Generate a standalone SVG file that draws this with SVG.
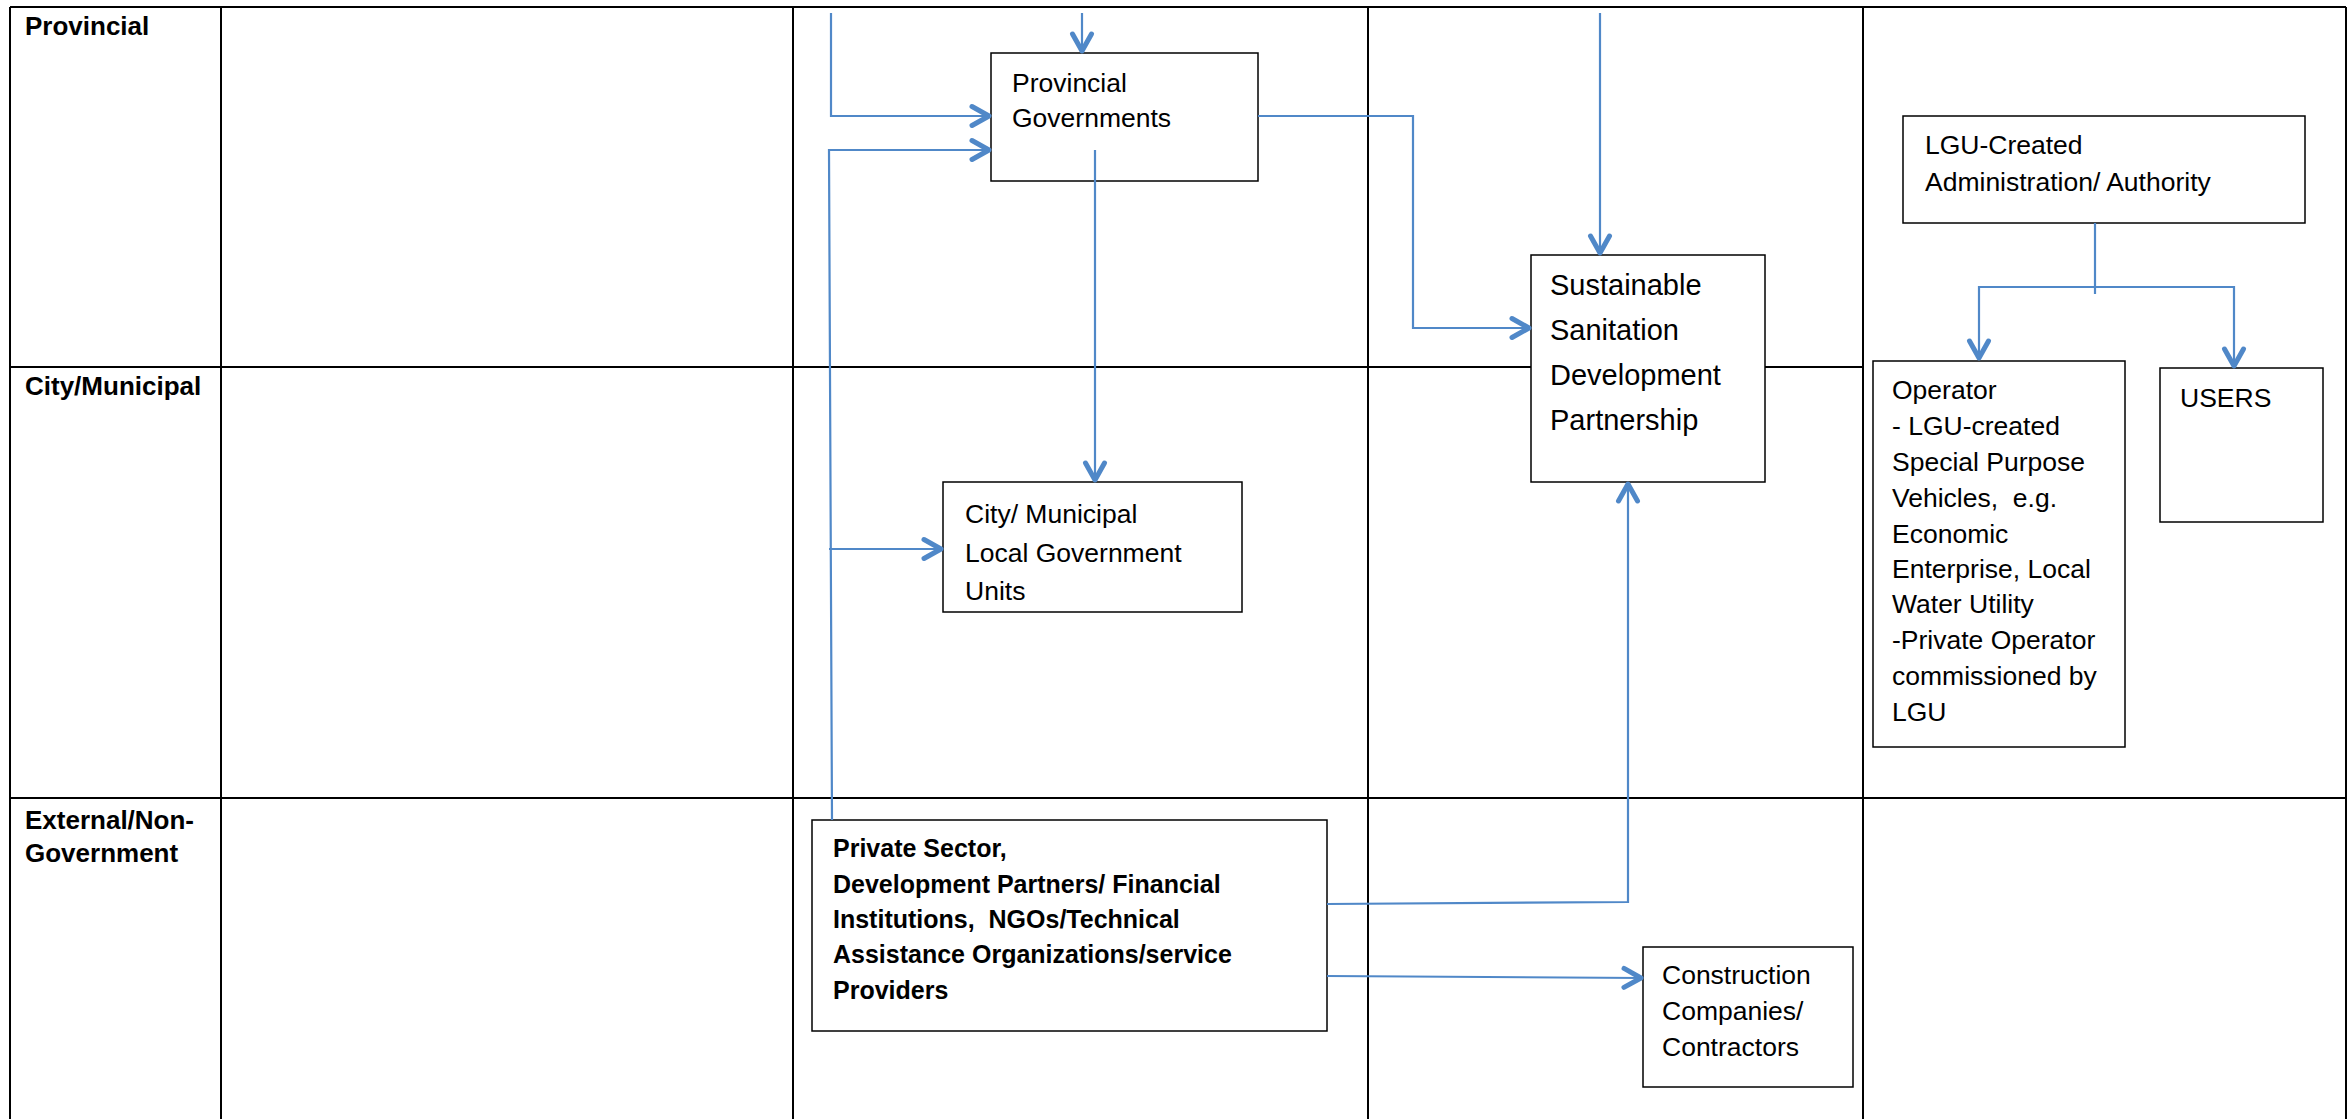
<svg xmlns="http://www.w3.org/2000/svg" width="2352" height="1119" viewBox="0 0 2352 1119">
<style>
.grid{stroke:#000;stroke-width:2;fill:none}
.box{fill:#fff;stroke:#000;stroke-width:1.5}
.hdr{font-family:"Liberation Sans",Arial,sans-serif;font-weight:bold;font-size:26px;fill:#000}
.t{font-family:"Liberation Sans",Arial,sans-serif;font-size:26.5px;fill:#000}
.tb{font-family:"Liberation Sans",Arial,sans-serif;font-weight:bold;font-size:25px;fill:#000}
.big{font-family:"Liberation Sans",Arial,sans-serif;font-size:29px;fill:#000}
.c{fill:none;stroke:#5088C8;stroke-width:2.2}
.ca{fill:none;stroke:#5088C8;stroke-width:2.2;marker-end:url(#arr)}
</style>
<defs>
<marker id="arr" markerUnits="userSpaceOnUse" viewBox="-24 -14 28 28" refX="2" refY="0" markerWidth="28" markerHeight="28" orient="auto">
<path d="M-17,-9.5 L0,0 L-17,9.5" fill="none" stroke="#5088C8" stroke-width="5" stroke-linecap="round" stroke-linejoin="round"/>
</marker>
</defs>
<rect width="2352" height="1119" fill="#fff"/>
<g id="table">
<path class="grid" d="M10,7 H2346 M10,367 H1863 M10,798 H2346 M10,7 V1125 M221,7 V1125 M793,7 V1125 M1368,7 V1125 M1863,7 V1125 M2346,7 V1125"/>
<text class="hdr" x="25" y="35">Provincial</text>
<text class="hdr" x="25" y="395">City/Municipal</text>
<text class="hdr" x="25" y="829">External/Non-</text>
<text class="hdr" x="25" y="862">Government</text>
</g>
<g id="provincial-governments">
<rect class="box" x="991" y="53" width="267" height="128"/>
<text class="t" x="1012" y="92">Provincial</text>
<text class="t" x="1012" y="127">Governments</text>
</g>
<g id="city-municipal-lgu">
<rect class="box" x="943" y="482" width="299" height="130"/>
<text class="t" x="965" y="523">City/ Municipal</text>
<text class="t" x="965" y="562">Local Government</text>
<text class="t" x="965" y="600">Units</text>
</g>
<g id="sustainable-sanitation">
<rect class="box" x="1531" y="255" width="234" height="227"/>
<text class="big" x="1550" y="295">Sustainable</text>
<text class="big" x="1550" y="340">Sanitation</text>
<text class="big" x="1550" y="385">Development</text>
<text class="big" x="1550" y="430">Partnership</text>
</g>
<g id="lgu-created">
<rect class="box" x="1903" y="116" width="402" height="107"/>
<text class="t" x="1925" y="154">LGU-Created</text>
<text class="t" x="1925" y="191">Administration/ Authority</text>
</g>
<g id="operator">
<rect class="box" x="1873" y="361" width="252" height="386"/>
<text class="t" x="1892" y="399">Operator</text>
<text class="t" x="1892" y="435">- LGU-created</text>
<text class="t" x="1892" y="471">Special Purpose</text>
<text class="t" x="1892" y="507" xml:space="preserve">Vehicles,  e.g.</text>
<text class="t" x="1892" y="543">Economic</text>
<text class="t" x="1892" y="578">Enterprise, Local</text>
<text class="t" x="1892" y="613">Water Utility</text>
<text class="t" x="1892" y="649">-Private Operator</text>
<text class="t" x="1892" y="685">commissioned by</text>
<text class="t" x="1892" y="721">LGU</text>
</g>
<g id="users">
<rect class="box" x="2160" y="368" width="163" height="154"/>
<text class="t" x="2180" y="407">USERS</text>
</g>
<g id="private-sector">
<rect class="box" x="812" y="820" width="515" height="211"/>
<text class="tb" x="833" y="857">Private Sector,</text>
<text class="tb" x="833" y="893">Development Partners/ Financial</text>
<text class="tb" x="833" y="928" xml:space="preserve">Institutions,  NGOs/Technical</text>
<text class="tb" x="833" y="963">Assistance Organizations/service</text>
<text class="tb" x="833" y="999">Providers</text>
</g>
<g id="construction">
<rect class="box" x="1643" y="947" width="210" height="140"/>
<text class="t" x="1662" y="984">Construction</text>
<text class="t" x="1662" y="1020">Companies/</text>
<text class="t" x="1662" y="1056">Contractors</text>
</g>
<g id="connectors">
<path class="ca" d="M831,13 V116 H991"/>
<path class="ca" d="M1082,13 V53"/>
<path class="ca" d="M832,820 L829,150 H991"/>
<path class="ca" d="M829,549 H943"/>
<path class="ca" d="M1095,150 V482"/>
<path class="ca" d="M1258,116 H1413 V328 H1531"/>
<path class="ca" d="M1600,13 V255"/>
<path class="ca" d="M1327,904 L1628,902 V482"/>
<path class="ca" d="M1327,976 L1643,978"/>
<path class="c" d="M2095,223 V294"/>
<path class="ca" d="M2095,287 H1979 V360"/>
<path class="ca" d="M2095,287 H2234 V368"/>
</g>
</svg>
